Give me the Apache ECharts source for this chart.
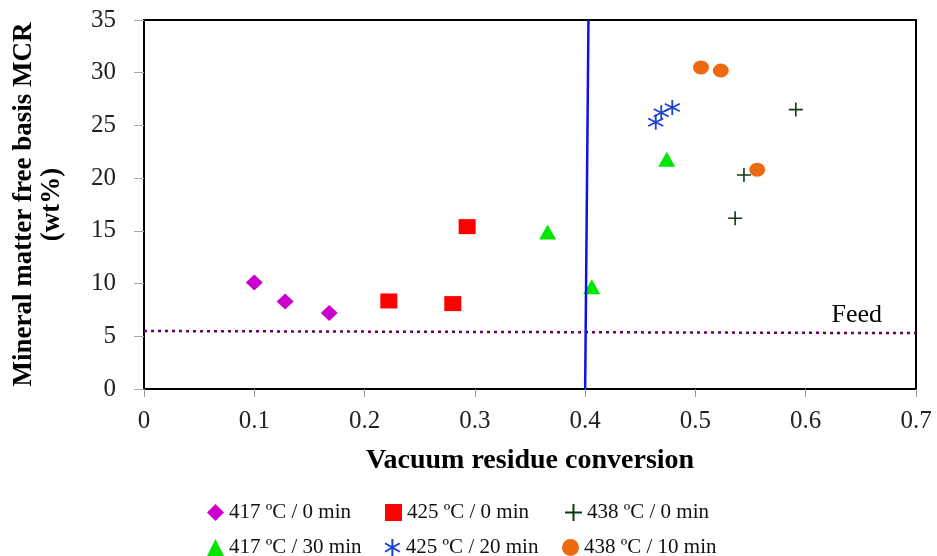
<!DOCTYPE html>
<html>
<head>
<meta charset="utf-8">
<script src="https://cdn.jsdelivr.net/npm/echarts@6/dist/echarts.min.js"></script>
<style>
  html, body { margin: 0; padding: 0; background: #fff; }
  #chart { width: 937px; height: 556px; }
</style>
</head>
<body>
<div id="chart"></div>
<script>
// data: [conversion, MCR]
const s417_0 = [[0.100, 10.1], [0.128, 8.3], [0.168, 7.2]];
const s425_0 = [[0.222, 8.35], [0.280, 8.1], [0.293, 15.4]];
const s438_0 = [[0.536, 16.2], [0.544, 20.3], [0.591, 26.5]];
const s417_30 = [[0.366, 14.9], [0.406, 9.7], [0.474, 21.8]];
const s425_20 = [[0.464, 25.3], [0.469, 26.2], [0.479, 26.7]];
const s438_10 = [[0.505, 30.5], [0.523, 30.2], [0.556, 20.8]];
const feedLine = [[0, 5.5], [0.7, 5.3]];
const limitLine = [[0.400, 0], [0.403, 35]];
const seriesNames = [
  '417 ºC / 0 min', '425 ºC / 0 min', '438 ºC / 0 min',
  '417 ºC / 30 min', '425 ºC / 20 min', '438 ºC / 10 min'
];

const serif = 'Liberation Serif';
const plusPath = 'path://M-10,0L10,0M0,-10L0,10';
const starPath = 'path://M0,-10L0,10M-8.66,-5L8.66,5M-8.66,5L8.66,-5';

// one legend per entry so they sit where the original ones do
const legendSpots = [
  [207, 502], [385, 502], [564, 502],
  [207, 537], [384, 537], [562, 537]
];

const chart = echarts.init(document.getElementById('chart'));

const option = {
  animation: false,
  textStyle: { fontFamily: serif },
  grid: {
    left: 144, right: 21, top: 20, bottom: 167,
    show: true, borderColor: '#000', borderWidth: 2
  },
  legend: seriesNames.map((n, i) => ({
    data: [n], left: legendSpots[i][0], top: legendSpots[i][1],
    itemWidth: 17, itemHeight: 17, itemGap: 0, padding: 0,
    textStyle: { fontFamily: serif, fontSize: 21, color: '#111' }
  })),
  xAxis: {
    type: 'value', min: 0, max: 0.7, interval: 0.1,
    name: 'Vacuum residue conversion', nameLocation: 'middle', nameGap: 58,
    nameTextStyle: { fontFamily: serif, fontSize: 28, fontWeight: 'bold', color: '#000' },
    axisLine: { show: true, lineStyle: { color: '#000', width: 2 } },
    axisTick: { show: true, length: 8, lineStyle: { color: '#999' } },
    axisLabel: { fontFamily: serif, fontSize: 25, color: '#222', margin: 20 },
    splitLine: { show: false }
  },
  yAxis: {
    type: 'value', min: 0, max: 35, interval: 5,
    name: 'Mineral matter free basis MCR\n(wt%)', nameLocation: 'middle', nameGap: 78,
    nameTextStyle: { fontFamily: serif, fontSize: 27, fontWeight: 'bold', color: '#000', lineHeight: 28 },
    axisLine: { show: true, lineStyle: { color: '#000', width: 2 } },
    axisTick: { show: true, length: 10, lineStyle: { color: '#aaa' } },
    axisLabel: { fontFamily: serif, fontSize: 25, color: '#222', margin: 28 },
    splitLine: { show: false }
  },
  series: [
    {
      type: 'line', data: feedLine, symbol: 'none', silent: true,
      lineStyle: { color: '#660066', width: 2.5, type: [3, 4] },
      endLabel: {
        show: true, formatter: 'Feed', align: 'right', offset: [-42, -18],
        fontFamily: serif, fontSize: 26, color: '#000'
      }
    },
    {
      type: 'line', data: limitLine, symbol: 'none', silent: true,
      lineStyle: { color: '#1010ee', width: 2.5 }
    },
    {
      name: seriesNames[0], type: 'scatter', data: s417_0, symbol: 'diamond', symbolSize: [17, 16],
      itemStyle: { color: '#cc00cc', opacity: 1 }
    },
    {
      name: seriesNames[1], type: 'scatter', data: s425_0, symbol: 'rect', symbolSize: [17, 15],
      itemStyle: { color: '#ff0000', opacity: 1 }
    },
    {
      name: seriesNames[2], type: 'scatter', data: s438_0, symbol: plusPath, symbolSize: 14,
      itemStyle: { color: 'rgba(0,0,0,0)', borderColor: '#0f3a0f', borderWidth: 1.6, opacity: 1 }
    },
    {
      name: seriesNames[3], type: 'scatter', data: s417_30, symbol: 'triangle', symbolSize: [17, 15],
      itemStyle: { color: '#00e600', opacity: 1 }
    },
    {
      name: seriesNames[4], type: 'scatter', data: s425_20, symbol: starPath, symbolSize: 15,
      itemStyle: { color: 'rgba(0,0,0,0)', borderColor: '#1a3fd6', borderWidth: 1.8, opacity: 1 }
    },
    {
      name: seriesNames[5], type: 'scatter', data: s438_10, symbol: 'circle', symbolSize: [16, 14],
      itemStyle: { color: '#ee6a10', opacity: 1 }
    }
  ]
};

chart.setOption(option);
</script>
</body>
</html>
